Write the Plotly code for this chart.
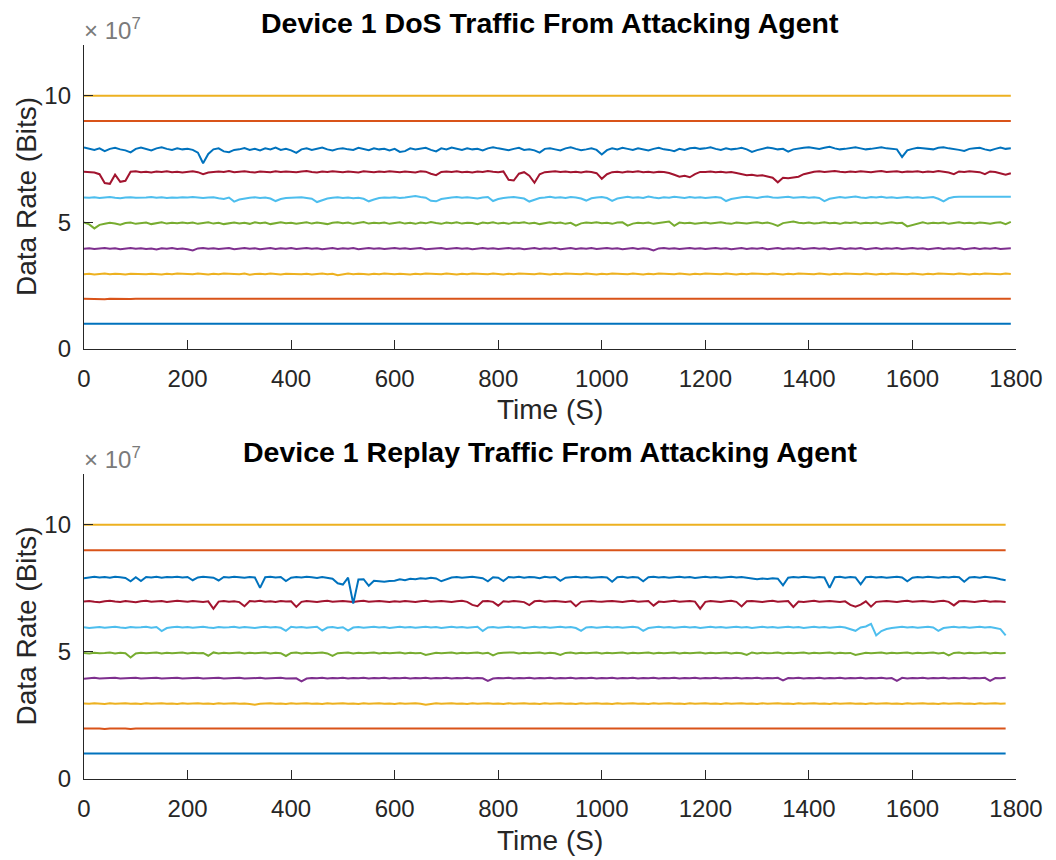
import plotly.graph_objects as go

# Sampling step of the recorded traffic (seconds)
STEP_S = 10
# Values below are stored in units of 1e5 bits
UNIT = 1e5

# ---------------- DoS traffic (top panel) ----------------
dos_1 = [100] * 180
dos_2 = [
    198, 197, 198, 198, 196, 198, 197, 198, 198, 197, 198, 198, 197, 198, 196, 198, 198, 197, 198, 198,
    197, 198, 198, 196, 198, 197, 198, 198, 197, 198, 198, 196, 198, 197, 198, 198, 197, 198, 198, 197,
    198, 198, 197, 198, 198, 196, 198, 197, 198, 198, 197, 198, 198, 197, 196, 198, 198, 197, 198, 198,
    197, 198, 198, 197, 198, 196, 198, 198, 197, 198, 198, 197, 198, 198, 196, 198, 197, 198, 198, 197,
    198, 198, 196, 198, 197, 198, 198, 197, 198, 198, 197, 198, 196, 198, 198, 197, 198, 198, 197, 198,
    198, 197, 198, 198, 196, 198, 197, 198, 198, 197, 198, 198, 197, 198, 198, 196, 198, 197, 198, 198,
    197, 198, 198, 196, 198, 197, 198, 198, 197, 198, 198, 197, 198, 196, 198, 198, 197, 198, 198, 197,
    198, 198, 197, 198, 198, 196, 198, 197, 198, 198, 197, 198, 198, 197, 196, 198, 198, 197, 198, 198,
    197, 198, 198, 197, 198, 196, 198, 198, 197, 198, 198, 197, 198, 198, 196, 198, 197, 198, 198, 198,
]
dos_3 = [
    295, 297, 294, 296, 298, 295, 297, 296, 294, 297, 296, 298, 295, 297, 296, 294, 297, 295, 298, 296,
    297, 295, 298, 296, 294, 297, 295, 298, 296, 297, 295, 298, 293, 296, 297, 295, 298, 296, 294, 297,
    296, 298, 295, 297, 294, 296, 298, 295, 297, 291, 296, 298, 295, 297, 296, 294, 297, 295, 298, 296,
    295, 297, 296, 294, 297, 295, 298, 296, 297, 295, 298, 296, 294, 297, 295, 298, 296, 297, 295, 298,
    296, 294, 297, 295, 298, 296, 297, 295, 298, 296, 294, 297, 295, 298, 296, 297, 295, 298, 296, 294,
    297, 295, 298, 296, 297, 295, 298, 296, 294, 297, 295, 298, 296, 297, 295, 298, 296, 294, 297, 295,
    298, 296, 297, 295, 298, 296, 294, 297, 295, 298, 296, 297, 295, 298, 296, 294, 297, 295, 298, 296,
    297, 295, 298, 296, 294, 297, 295, 298, 296, 297, 295, 298, 296, 294, 297, 295, 298, 296, 297, 295,
    298, 296, 294, 297, 295, 298, 296, 297, 295, 298, 296, 294, 297, 295, 298, 296, 297, 295, 298, 296,
]
dos_4 = [
    396, 398, 395, 397, 399, 396, 398, 394, 397, 399, 396, 398, 395, 397, 393, 398, 396, 399, 395, 397,
    394, 389, 397, 399, 396, 398, 395, 397, 399, 394, 397, 399, 396, 398, 394, 397, 399, 395, 398, 396,
    399, 395, 397, 399, 396, 398, 394, 397, 399, 395, 398, 396, 399, 394, 397, 399, 396, 398, 395, 397,
    399, 396, 398, 395, 397, 399, 394, 396, 398, 399, 395, 397, 399, 396, 398, 394, 397, 399, 396, 398,
    395, 397, 399, 396, 398, 394, 397, 399, 395, 398, 396, 399, 394, 397, 399, 395, 398, 396, 399, 395,
    397, 399, 396, 398, 394, 397, 399, 395, 398, 396, 389, 397, 399, 396, 398, 395, 397, 399, 396, 398,
    395, 397, 399, 396, 398, 394, 397, 399, 395, 398, 396, 399, 394, 397, 399, 395, 398, 396, 399, 395,
    397, 399, 396, 398, 394, 397, 399, 395, 398, 396, 399, 394, 397, 399, 395, 398, 396, 399, 395, 397,
    399, 396, 398, 394, 397, 399, 395, 398, 396, 399, 394, 397, 399, 395, 398, 396, 399, 395, 397, 398,
]
dos_5 = [
    500, 492, 476, 490, 494, 498, 495, 491, 497, 499, 494, 496, 499, 493, 497, 500, 495, 498, 496, 499,
    496, 499, 494, 497, 500, 495, 498, 493, 497, 499, 495, 498, 494, 500, 496, 499, 493, 497, 500, 496,
    498, 494, 497, 500, 495, 499, 496, 493, 498, 500, 496, 499, 494, 497, 501, 495, 498, 496, 499, 494,
    497, 500, 495, 498, 494, 499, 496, 501, 497, 494, 499, 496, 500, 495, 498, 497, 493, 499, 496, 500,
    495, 498, 494, 499, 497, 500, 495, 498, 493, 497, 500, 496, 499, 494, 498, 487, 496, 499, 497, 500,
    496, 498, 494, 499, 500, 487, 495, 498, 496, 499, 494, 497, 500, 503, 486, 499, 496, 498, 494, 497,
    499, 495, 498, 500, 496, 494, 499, 497, 495, 498, 500, 496, 499, 494, 486, 497, 500, 503, 498, 496,
    499, 495, 497, 500, 496, 498, 494, 499, 497, 500, 495, 498, 496, 499, 494, 497, 500, 496, 498, 484,
    490, 497, 500, 495, 498, 496, 499, 494, 497, 500, 496, 498, 495, 499, 497, 494, 498, 500, 493, 502,
]
dos_6 = [
    598, 597, 599, 596, 598, 600, 597, 595, 598, 599, 597, 596, 598, 600, 597, 599, 596, 598, 597, 599,
    598, 600, 597, 596, 598, 599, 595, 592, 598, 582, 590, 595, 597, 599, 596, 598, 594, 584, 592, 596,
    598, 597, 599, 596, 593, 580, 588, 594, 597, 599, 596, 598, 595, 597, 593, 583, 590, 596, 598, 597,
    599, 596, 598, 601, 604, 600, 597, 585, 583, 592, 596, 598, 600, 597, 599, 596, 594, 598, 600, 584,
    592, 596, 598, 600, 597, 594, 582, 590, 596, 598, 601, 597, 599, 596, 600, 598, 594, 586, 595, 598,
    600, 596, 585, 594, 598, 601, 597, 599, 596, 602, 598, 595, 599, 597, 601, 598, 596, 600, 597, 599,
    596, 598, 600, 597, 584, 592, 597, 599, 601, 598, 596, 600, 602, 598, 597, 599, 601, 597, 598, 600,
    597, 599, 596, 584, 593, 598, 600, 597, 599, 602, 598, 596, 600, 598, 601, 597, 599, 596, 598, 600,
    597, 599, 596, 598, 600, 593, 583, 595, 600, 601, 601, 600, 601, 601, 600, 601, 601, 600, 601, 601,
]
dos_7 = [
    700, 698, 697, 690, 655, 652, 688, 660, 664, 700, 702, 698, 700, 697, 701, 699, 702, 698, 700, 697,
    699, 702, 698, 690, 697, 698, 701, 699, 703, 698, 700, 702, 699, 697, 701, 700, 698, 702, 699, 701,
    700, 698, 701, 703, 699, 697, 701, 699, 702, 700, 698, 701, 699, 697, 702, 700, 698, 701, 699, 702,
    700, 698, 701, 699, 697, 702, 700, 692, 686, 699, 701, 699, 702, 698, 700, 697, 701, 699, 703, 700,
    698, 701, 668, 665, 692, 698, 684, 656, 690, 698, 700, 702, 699, 701, 698, 700, 697, 701, 699, 694,
    672, 690, 698, 700, 697, 701, 699, 702, 698, 700, 697, 700, 699, 695, 688, 680, 684, 678, 690, 699,
    699, 701, 698, 700, 697, 699, 695, 690, 686, 688, 684, 686, 680, 676, 658, 676, 674, 678, 680, 690,
    696, 700, 702, 699, 701, 703, 700, 698, 701, 699, 702, 700, 698, 701, 703, 699, 700, 702, 698, 701,
    700, 702, 698, 701, 699, 703, 700, 697, 690, 701, 699, 702, 700, 698, 690, 701, 699, 694, 688, 694,
]
dos_8 = [
    795, 790, 786, 792, 781, 790, 794, 788, 784, 776, 790, 795, 788, 784, 792, 796, 790, 786, 792, 788,
    790, 786, 775, 733, 770, 788, 792, 780, 777, 786, 788, 793, 786, 790, 784, 792, 788, 795, 786, 790,
    784, 774, 788, 792, 786, 790, 795, 788, 784, 790, 792, 788, 786, 794, 790, 785, 792, 788, 790, 784,
    790, 778, 781, 792, 788, 790, 794, 786, 780, 792, 788, 795, 790, 786, 792, 788, 790, 784, 792, 796,
    792, 788, 785, 790, 794, 786, 788, 784, 775, 790, 792, 788, 784, 792, 796, 790, 785, 788, 792, 786,
    768, 785, 792, 788, 794, 790, 786, 792, 788, 784, 790, 794, 788, 786, 781, 790, 786, 792, 794, 790,
    792, 796, 790, 786, 792, 788, 790, 794, 788, 778, 785, 790, 795, 792, 788, 790, 779, 788, 792, 794,
    796, 792, 790, 794, 798, 792, 788, 790, 794, 796, 792, 788, 790, 794, 796, 792, 790, 788, 758, 784,
    790, 794, 792, 790, 788, 794, 796, 792, 790, 786, 782, 790, 792, 794, 788, 784, 790, 795, 790, 792,
]
dos_9 = [900] * 180
dos_10 = [1000] * 180

# ---------------- Replay traffic (bottom panel) ----------------
rep_1 = [100] * 179
rep_2 = [
    199, 198, 199, 199, 197, 199, 198, 199, 199, 197, 199, 199, 198, 199, 197, 199, 199, 198, 199, 197,
    199, 199, 198, 199, 197, 199, 199, 198, 199, 199, 197, 199, 198, 199, 199, 197, 199, 199, 198, 199,
    197, 199, 199, 198, 199, 199, 197, 199, 198, 199, 199, 197, 199, 199, 198, 199, 197, 199, 199, 198,
    199, 199, 197, 199, 198, 199, 199, 197, 199, 199, 198, 199, 199, 197, 199, 198, 199, 199, 197, 199,
    199, 198, 199, 197, 199, 199, 198, 199, 199, 197, 199, 198, 199, 199, 197, 199, 199, 198, 199, 199,
    197, 199, 198, 199, 199, 197, 199, 199, 198, 199, 199, 197, 199, 198, 199, 199, 197, 199, 199, 198,
    199, 199, 197, 199, 198, 199, 199, 197, 199, 199, 198, 199, 197, 199, 199, 198, 199, 199, 197, 199,
    198, 199, 199, 197, 199, 199, 198, 199, 199, 197, 199, 198, 199, 199, 197, 199, 199, 198, 199, 199,
    197, 199, 198, 199, 199, 197, 199, 199, 198, 199, 199, 197, 199, 198, 199, 199, 197, 199, 199,
]
rep_3 = [
    297, 296, 298, 297, 295, 298, 296, 297, 298, 296, 297, 295, 298, 296, 297, 298, 296, 297, 295, 298,
    296, 297, 298, 296, 297, 295, 298, 296, 297, 298, 296, 297, 295, 292, 296, 297, 298, 296, 297, 295,
    298, 296, 297, 298, 296, 297, 295, 298, 296, 297, 298, 296, 297, 295, 298, 296, 297, 298, 296, 297,
    295, 298, 296, 297, 298, 296, 292, 295, 298, 296, 297, 298, 296, 297, 295, 298, 296, 297, 298, 296,
    297, 295, 298, 296, 297, 298, 296, 297, 295, 298, 296, 297, 298, 296, 297, 295, 298, 296, 297, 298,
    296, 297, 295, 298, 296, 297, 298, 296, 297, 295, 298, 296, 297, 298, 296, 297, 295, 298, 296, 297,
    298, 296, 297, 295, 298, 296, 297, 298, 296, 297, 295, 298, 296, 297, 298, 296, 297, 295, 298, 296,
    297, 298, 296, 297, 295, 298, 296, 297, 298, 296, 297, 295, 298, 296, 297, 298, 296, 297, 295, 298,
    296, 297, 298, 296, 297, 295, 298, 296, 297, 298, 296, 297, 295, 298, 296, 297, 298, 296, 297,
]
rep_4 = [
    394, 396, 398, 395, 397, 396, 398, 395, 397, 396, 398, 395, 397, 396, 398, 395, 397, 396, 398, 395,
    397, 396, 398, 395, 397, 396, 398, 395, 397, 396, 398, 395, 397, 396, 398, 395, 397, 396, 398, 395,
    397, 396, 384, 395, 397, 396, 398, 395, 397, 396, 398, 395, 397, 396, 398, 395, 397, 396, 398, 395,
    397, 396, 398, 395, 397, 396, 398, 395, 397, 396, 398, 395, 397, 396, 398, 395, 397, 396, 386, 395,
    397, 396, 398, 395, 397, 396, 398, 395, 397, 396, 398, 395, 397, 396, 398, 395, 397, 396, 398, 395,
    397, 396, 398, 395, 397, 396, 398, 395, 397, 396, 398, 395, 397, 396, 398, 395, 397, 396, 398, 395,
    397, 396, 398, 395, 397, 396, 398, 395, 397, 396, 398, 395, 397, 396, 398, 388, 397, 396, 398, 395,
    397, 396, 398, 395, 397, 396, 398, 395, 397, 396, 398, 395, 397, 396, 398, 395, 397, 386, 398, 395,
    397, 396, 398, 395, 397, 396, 398, 395, 397, 396, 398, 395, 397, 396, 398, 386, 397, 396, 398,
]
rep_5 = [
    496, 494, 497, 495, 496, 498, 494, 497, 495, 478, 494, 497, 495, 496, 498, 494, 497, 495, 496, 498,
    494, 497, 495, 496, 485, 498, 494, 497, 495, 496, 498, 494, 497, 495, 496, 498, 494, 497, 495, 484,
    496, 498, 494, 497, 495, 496, 498, 494, 484, 495, 496, 498, 494, 497, 495, 496, 498, 494, 497, 495,
    496, 498, 494, 497, 495, 496, 488, 494, 497, 495, 496, 498, 494, 497, 495, 496, 498, 494, 497, 486,
    495, 497, 496, 498, 494, 497, 495, 496, 498, 494, 497, 495, 488, 496, 498, 494, 497, 495, 496, 498,
    494, 497, 495, 496, 498, 494, 497, 495, 496, 498, 494, 497, 495, 496, 498, 494, 497, 495, 496, 498,
    494, 497, 495, 496, 498, 494, 497, 495, 488, 498, 494, 497, 495, 496, 498, 494, 497, 495, 496, 498,
    494, 497, 495, 496, 498, 494, 497, 495, 496, 488, 494, 497, 495, 496, 498, 494, 497, 495, 496, 498,
    494, 497, 495, 496, 498, 494, 497, 486, 496, 498, 494, 497, 495, 496, 498, 494, 497, 495, 496,
]
rep_6 = [
    597, 594, 596, 598, 595, 597, 599, 596, 594, 598, 596, 597, 599, 595, 598, 582, 594, 597, 599, 596,
    598, 595, 597, 599, 596, 594, 598, 596, 597, 599, 595, 598, 596, 594, 597, 599, 596, 598, 595, 583,
    599, 596, 598, 595, 597, 599, 584, 596, 598, 594, 597, 584, 596, 598, 595, 597, 599, 596, 598, 594,
    597, 599, 596, 598, 595, 597, 599, 596, 598, 594, 597, 599, 596, 598, 595, 597, 599, 582, 596, 598,
    595, 597, 599, 596, 598, 594, 597, 599, 596, 598, 595, 597, 599, 596, 598, 594, 583, 596, 598, 595,
    597, 599, 596, 598, 595, 597, 599, 596, 583, 594, 597, 599, 596, 598, 595, 597, 599, 596, 598, 594,
    597, 599, 596, 598, 595, 597, 599, 596, 598, 594, 597, 599, 596, 598, 595, 597, 599, 596, 598, 594,
    597, 599, 596, 598, 595, 597, 599, 596, 590, 583, 596, 600, 610, 565, 582, 590, 594, 597, 599, 596,
    598, 595, 597, 599, 596, 583, 594, 597, 599, 596, 598, 595, 597, 599, 596, 598, 594, 590, 565,
]
rep_7 = [
    698, 700, 697, 695, 699, 701, 698, 696, 700, 698, 695, 699, 701, 697, 699, 700, 696, 698, 701, 699,
    697, 700, 698, 696, 699, 670, 698, 700, 697, 699, 696, 680, 700, 698, 701, 697, 699, 696, 700, 698,
    699, 677, 697, 700, 698, 696, 699, 701, 697, 699, 700, 698, 696, 699, 701, 697, 699, 700, 698, 696,
    699, 697, 700, 698, 696, 699, 701, 697, 699, 700, 698, 696, 699, 701, 697, 685, 680, 699, 700, 697,
    682, 699, 697, 700, 698, 696, 684, 699, 701, 697, 699, 700, 698, 696, 699, 680, 697, 699, 700, 698,
    697, 699, 700, 698, 696, 699, 701, 697, 699, 700, 682, 698, 696, 699, 701, 697, 699, 700, 698, 670,
    697, 700, 698, 696, 699, 701, 697, 679, 699, 700, 698, 696, 699, 701, 697, 699, 700, 677, 698, 696,
    699, 701, 697, 699, 700, 698, 696, 699, 685, 678, 686, 699, 678, 697, 699, 700, 698, 696, 699, 701,
    697, 699, 700, 698, 696, 699, 701, 697, 683, 699, 700, 698, 696, 699, 701, 697, 699, 698, 696,
]
rep_8 = [
    790, 794, 796, 793, 795, 792, 796, 794, 791, 778, 794, 779, 795, 793, 796, 792, 795, 794, 796, 793,
    795, 782, 793, 796, 794, 792, 781, 795, 793, 796, 794, 792, 795, 793, 752, 794, 796, 793, 795, 779,
    792, 795, 793, 796, 794, 791, 795, 792, 788, 770, 765, 792, 690, 785, 786, 760, 780, 778, 776, 779,
    780, 786, 782, 788, 786, 790, 788, 792, 789, 778, 786, 793, 795, 792, 794, 796, 793, 790, 778, 794,
    792, 779, 795, 793, 796, 792, 795, 794, 790, 796, 793, 795, 780, 792, 794, 796, 793, 795, 792, 794,
    795, 793, 776, 794, 796, 792, 795, 793, 778, 794, 796, 793, 795, 792, 794, 796, 793, 795, 791, 794,
    796, 793, 795, 792, 794, 796, 793, 795, 792, 788, 786, 789, 787, 790, 788, 762, 792, 795, 793, 796,
    794, 792, 795, 793, 752, 794, 796, 792, 795, 793, 766, 794, 796, 793, 795, 792, 794, 796, 793, 778,
    792, 795, 793, 796, 794, 792, 795, 793, 796, 794, 776, 793, 795, 792, 796, 794, 791, 786, 782,
]
rep_9 = [900] * 179
rep_10 = [1000] * 179

dos_series = [dos_1, dos_2, dos_3, dos_4, dos_5, dos_6, dos_7, dos_8, dos_9, dos_10]
rep_series = [rep_1, rep_2, rep_3, rep_4, rep_5, rep_6, rep_7, rep_8, rep_9, rep_10]

panel_titles = [
    "Device 1 DoS Traffic From Attacking Agent",
    "Device 1 Replay Traffic From Attacking Agent",
]
x_ticks = [0, 200, 400, 600, 800, 1000, 1200, 1400, 1600, 1800]
y_ticks = [0, 5e7, 10e7]
y_tick_labels = ["0", "5", "10"]

# MATLAB default colour order, cycling after seven entries
colors = ["#0072BD", "#D95319", "#EDB120", "#7E2F8E", "#77AC30", "#4DBEEE", "#A2142F"]

W, H = 1056, 860
AX_L, AX_R = 84, 1016
panels_px = [(45, 349), (474, 779)]  # (top, bottom) pixel rows of each plot area

FONT = "Liberation Sans, Arial, Helvetica, sans-serif"
TXT = "#262626"

fig = go.Figure()

for p, series_list in enumerate([dos_series, rep_series]):
    xa = "x" if p == 0 else "x2"
    ya = "y" if p == 0 else "y2"
    for i, vals in enumerate(series_list):
        t = list(range(0, STEP_S * len(vals), STEP_S))
        fig.add_trace(go.Scatter(
            x=t, y=[v * UNIT for v in vals], mode="lines",
            line=dict(color=colors[i % 7], width=2.0),
            xaxis=xa, yaxis=ya, showlegend=False, hoverinfo="skip",
        ))


def ydom(top, bottom):
    return [1 - bottom / H, 1 - top / H]


axis_common = dict(
    showgrid=False, zeroline=False, showline=True, linecolor=TXT, linewidth=1.3,
    ticks="inside", ticklen=9, tickwidth=1.2, tickcolor=TXT, automargin=False,
    tickfont=dict(family=FONT, size=24, color=TXT), mirror=False,
)

layout = dict(
    width=W, height=H, margin=dict(l=0, r=0, t=0, b=0, autoexpand=False),
    paper_bgcolor="white", plot_bgcolor="white", showlegend=False,
)
for p, (top, bottom) in enumerate(panels_px):
    sfx = "" if p == 0 else "2"
    layout["xaxis" + sfx] = dict(
        axis_common, domain=[AX_L / W, AX_R / W], range=[0, 1800],
        tickvals=x_ticks, ticktext=[str(v) for v in x_ticks],
        anchor="y" + sfx, ticklabelstandoff=8,
    )
    layout["yaxis" + sfx] = dict(
        axis_common, domain=ydom(top, bottom), range=[0, 12e7],
        tickvals=y_ticks, ticktext=y_tick_labels,
        anchor="x" + sfx, ticklabelstandoff=7,
    )
fig.update_layout(**layout)

annotations = []
for p, (top, bottom) in enumerate(panels_px):
    # Panel title
    annotations.append(dict(
        text="<b>%s</b>" % panel_titles[p], x=(AX_L + AX_R) / 2 / W, y=1 - (top - 22) / H,
        xref="paper", yref="paper", showarrow=False, xanchor="center", yanchor="middle",
        font=dict(family=FONT, size=28.5, color="#000000"),
    ))
    # Exponent label
    annotations.append(dict(
        text="× 10<sup>7</sup>", x=(AX_L - 2) / W, y=1 - (top - 16) / H,
        xref="paper", yref="paper", showarrow=False, xanchor="left", yanchor="middle",
        font=dict(family=FONT, size=24, color="#7a7a7a"),
    ))
    # Axis titles
    annotations.append(dict(
        text="Time (S)", x=(AX_L + AX_R) / 2 / W, y=1 - (bottom + 61) / H,
        xref="paper", yref="paper", showarrow=False, xanchor="center", yanchor="middle",
        font=dict(family=FONT, size=28, color=TXT),
    ))
    annotations.append(dict(
        text="Data Rate (Bits)", x=26 / W, y=1 - (top + bottom) / 2 / H,
        xref="paper", yref="paper", showarrow=False, xanchor="center", yanchor="middle",
        textangle=-90, font=dict(family=FONT, size=28, color=TXT),
    ))
fig.update_layout(annotations=annotations)

fig.write_html("out.html")
